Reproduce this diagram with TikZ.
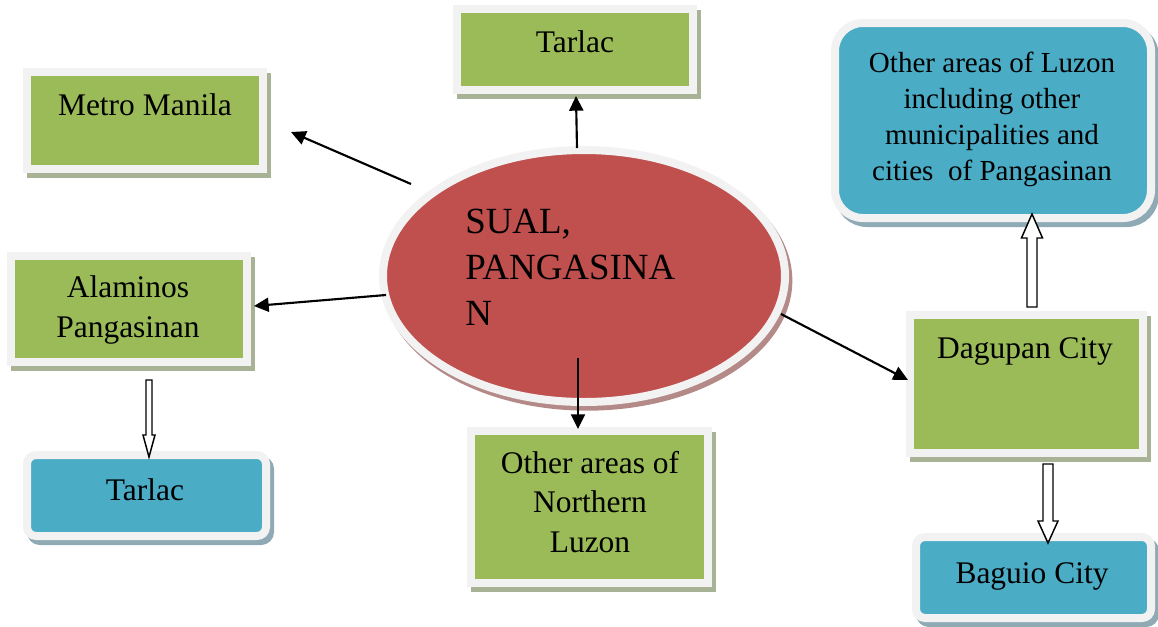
\documentclass[tikz,border=0pt]{standalone}
\usepackage{fontspec}
\setmainfont{Liberation Serif}
\usetikzlibrary{arrows.meta,shadows,calc,shapes.geometric}
\definecolor{boxgreen}{HTML}{9BBB59}
\definecolor{boxblue}{HTML}{4BACC6}
\definecolor{boxred}{HTML}{C0504D}
\definecolor{rim}{HTML}{F2F2F2}
\definecolor{greenshade}{HTML}{A8B294}
\definecolor{blueshade}{HTML}{8FAAB4}
\definecolor{redshade}{HTML}{B48A89}
\begin{document}
\begin{tikzpicture}[x=0.75pt,y=-0.75pt,
  frame/.style={draw=rim, line width=6pt, inner sep=0pt, outer sep=0pt},
  greenbox/.style={frame, rectangle, fill=boxgreen,
    drop shadow={shadow xshift=3pt, shadow yshift=-3.75pt, fill=greenshade, draw=greenshade, line width=6pt, opacity=1}},
  bluebox/.style={frame, rectangle, rounded corners=6.75pt, fill=boxblue,
    drop shadow={shadow xshift=3pt, shadow yshift=-3.75pt, fill=blueshade, draw=blueshade, line width=6pt, opacity=1}},
  hub/.style={frame, ellipse, fill=boxred,
    drop shadow={shadow xshift=2.5pt, shadow yshift=-3.5pt, fill=redshade, draw=redshade, line width=6pt, opacity=1}},
  boxtext/.style={inner sep=0pt, anchor=base, align=center, font=\fontsize{23.6pt}{30pt}\selectfont},
  link/.style={draw=black, line width=1.6pt, -{Triangle[length=11pt,width=10.5pt]}},
  hollow/.style n args={3}{draw=black, line width=1.1pt, fill=white, line join=miter,
    to path={
      ($(\tikztotarget)!#3!(\tikztostart)$) coordinate (hb)
      ($(\tikztostart)!#1!90:(\tikztotarget)$) -- ($(hb)!#1!90:(\tikztotarget)$)
      -- ($(hb)!#2!90:(\tikztotarget)$) -- (\tikztotarget)
      -- ($(hb)!#2!-90:(\tikztotarget)$) -- ($(hb)!#1!-90:(\tikztotarget)$)
      -- ($(\tikztostart)!#1!-90:(\tikztotarget)$) -- cycle}}
]
\useasboundingbox (0,0) rectangle (1158,626);

% boxes
\node[greenbox, minimum width=236*0.75pt, minimum height=97*0.75pt] (mm) at (145,120.5) {};
\node[greenbox, minimum width=236*0.75pt, minimum height=81*0.75pt] (tt) at (575,49) {};
\node[greenbox, minimum width=236*0.75pt, minimum height=106*0.75pt] (alam) at (129,309) {};
\node[greenbox, minimum width=237*0.75pt, minimum height=152*0.75pt] (nl) at (589.5,507) {};
\node[greenbox, minimum width=233*0.75pt, minimum height=138*0.75pt] (dag) at (1026.5,384) {};
\node[bluebox, minimum width=239*0.75pt, minimum height=81*0.75pt] (tb) at (146.5,495.5) {};
\node[bluebox, minimum width=235*0.75pt, minimum height=81*0.75pt] (bag) at (1033.5,577.5) {};
\node[bluebox, rounded corners=21pt, minimum width=316*0.75pt, minimum height=195*0.75pt] (luz) at (993,120.5) {};
\node[hub, minimum width=402*0.75pt, minimum height=252*0.75pt] (sual) at (584,276) {};

% arrows out of the hub
\draw[link] ([shift={(-173,-92)}]sual.center) -- ([shift={(28,11.5)}]mm.east);
\draw[link] ([shift={(-7,-128)}]sual.center) -- ([shift={(1,6.5)}]tt.south);
\draw[link] ([shift={(-198,19)}]sual.center) -- ([shift={(7,-3)}]alam.east);
\draw[link] ([shift={(-6,82)}]sual.center) -- ([shift={(-11.5,-2)}]nl.north);
\draw[link] ([shift={(197,38)}]sual.center) -- ([shift={(-2,-4)}]dag.west);

% block arrows
\draw[hollow={2.25pt}{4.5pt}{16.5pt}] ([shift={(20,18)}]alam.south) to ([shift={(2.5,2)}]tb.north);
\draw[hollow={3.75pt}{7.5pt}{16.5pt}] ([shift={(21.5,11)}]dag.south) to ([shift={(14.5,6)}]bag.north);
\draw[hollow={3.75pt}{7.9pt}{18pt}] ([shift={(5.5,-8)}]dag.north) to ([shift={(39,-4)}]luz.south);

% texts (multi-line texts are placed by the baseline of their last line)
\node[boxtext] (tmm) at (145,115) {Metro Manila};
\node[boxtext] (ttt) at (575,52) {Tarlac};
\node[boxtext] (talam) at (128,337) {Alaminos\\Pangasinan};
\node[boxtext, font=\fontsize{23.6pt}{29.6pt}\selectfont] (tnl) at (590,552) {Other areas of\\Northern\\Luzon};
\node[boxtext] (tdag) at (1025,358) {Dagupan City};
\node[boxtext] (ttb) at (145,500) {Tarlac};
\node[boxtext] (tbag) at (1032,583) {Baguio City};
\node[boxtext, font=\fontsize{21.8pt}{27pt}\selectfont] (tluz) at (992,180) {Other areas of Luzon\\including other\\municipalities and\\cities~ of Pangasinan};
\node[boxtext, anchor=base west, align=left, font=\fontsize{27.7pt}{34.5pt}\selectfont] (tsual) at (465,325) {SUAL,\\PANGASINA\\N};
\end{tikzpicture}
\end{document}
